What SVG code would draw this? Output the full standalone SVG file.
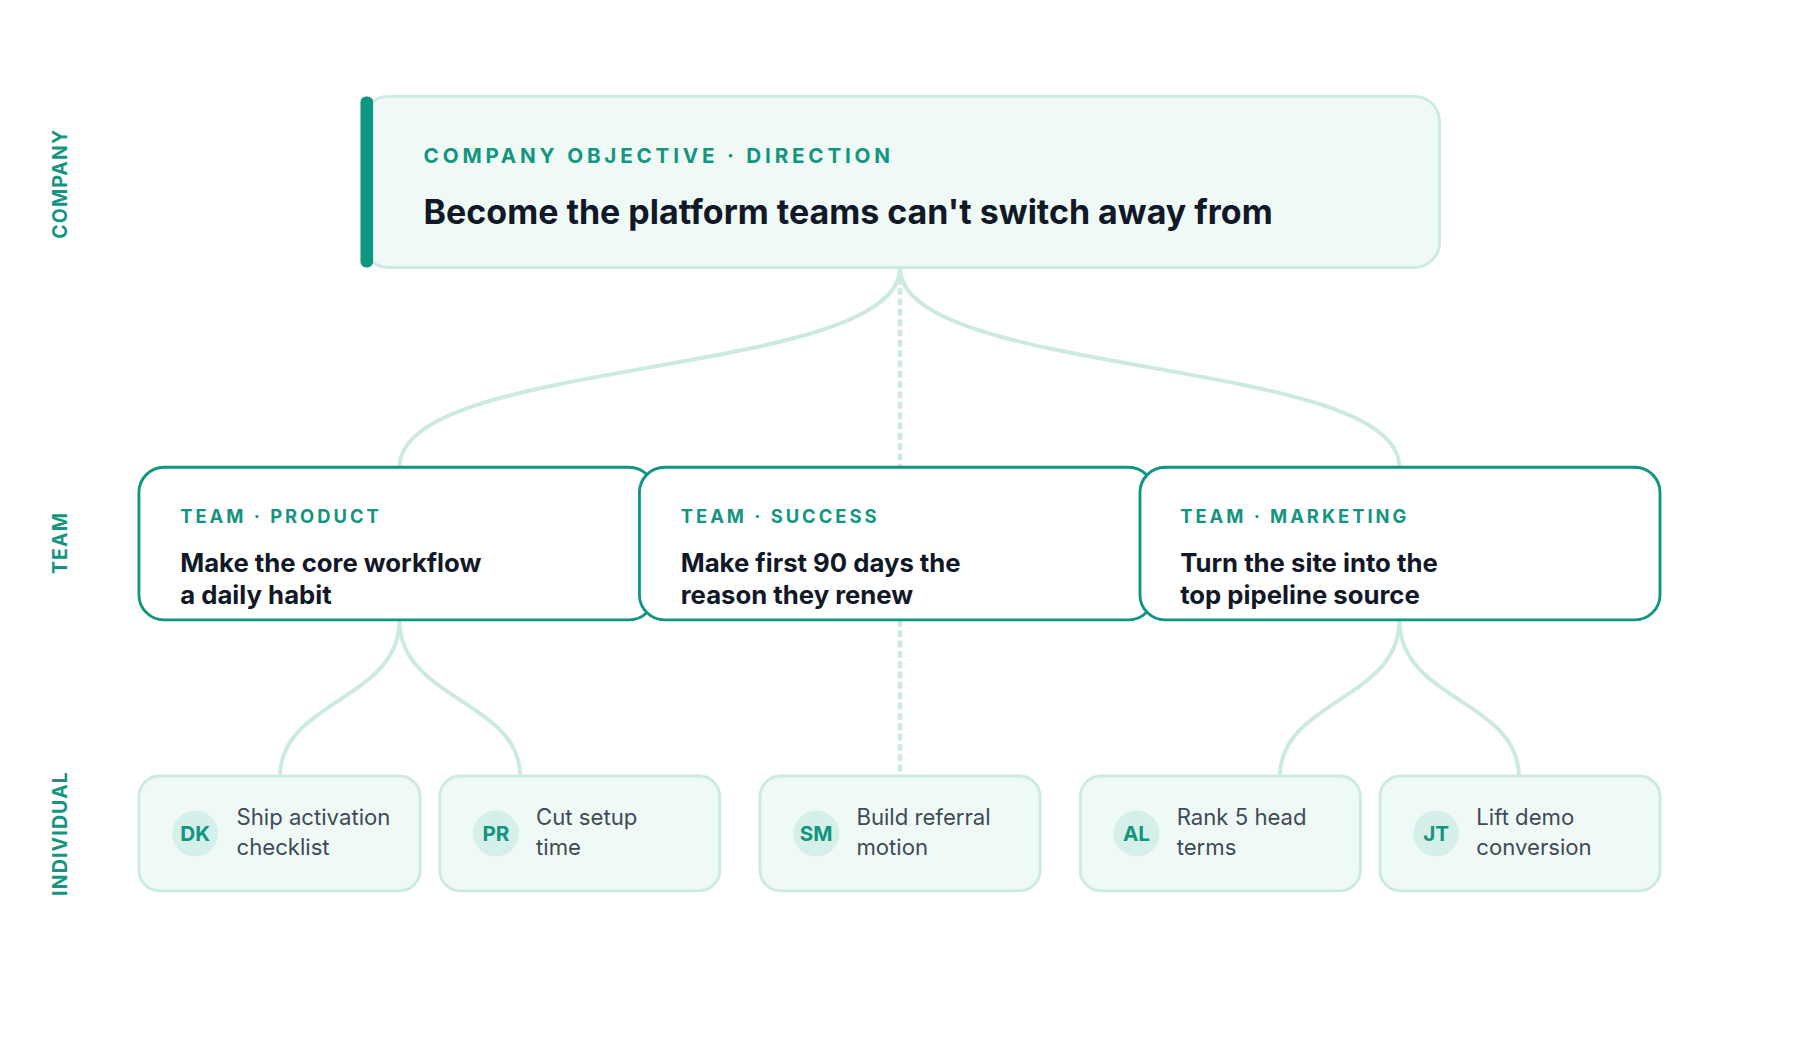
<svg xmlns="http://www.w3.org/2000/svg" width="1800" height="1040" viewBox="0 0 1800 1040">
<style>
.lab{font-family:Inter,"Liberation Sans",sans-serif;font-weight:700;fill:#13957f;letter-spacing:2.6px}
.lab1{letter-spacing:3.3px}
.ttl{font-family:Inter,"Liberation Sans",sans-serif;font-weight:700;fill:#111827}
.ind{font-family:Inter,"Liberation Sans",sans-serif;font-size:19.3px;fill:#3f4a56}
.av{font-family:Inter,"Liberation Sans",sans-serif;font-size:18px;font-weight:700;fill:#13957f}
.side{font-family:Inter,"Liberation Sans",sans-serif;font-size:17px;font-weight:700;fill:#13957f;letter-spacing:1px}
.soft{fill:#effaf7;stroke:#cce9e3;stroke-width:2.5}
.team{fill:#fff;stroke:#0f9580;stroke-width:2.5}
.c{fill:none;stroke:#cce9e3;stroke-width:3.5}
.d{fill:none;stroke:#cce9e3;stroke-width:4;stroke-dasharray:6 3}
</style>
<rect width="1800" height="1040" fill="#fff"/>
<g transform="scale(1.148)">
<g id="side">
<text class="side" transform="translate(58,160) rotate(-90)" text-anchor="middle">COMPANY</text>
<text class="side" transform="translate(58,473) rotate(-90)" text-anchor="middle">TEAM</text>
<text class="side" transform="translate(58,726) rotate(-90)" text-anchor="middle">INDIVIDUAL</text>
</g>
<g id="connectors">
<path class="c" d="M784 233 C784 330 348 310 348 407"/>
<path class="c" d="M784 233 C784 330 1219 310 1219 407"/>
<path class="d" d="M784 233 L784 407"/>
<path class="c" d="M348 540 C348 610 244 610 244 676"/>
<path class="c" d="M348 540 C348 610 453 610 453 676"/>
<path class="d" d="M784 540 L784 676"/>
<path class="c" d="M1219 540 C1219 610 1115 610 1115 676"/>
<path class="c" d="M1219 540 C1219 610 1323 610 1323 676"/>
</g>
<g id="company">
<rect class="soft" x="316" y="84" width="938" height="149" rx="22"/>
<rect x="314" y="84" width="11" height="149" rx="5" fill="#0f9580"/>
<text class="lab lab1" x="369" y="142" font-size="18">COMPANY OBJECTIVE · DIRECTION</text>
<text class="ttl" x="369" y="195" font-size="29.6">Become the platform teams can't switch away from</text>
</g>
<g id="team-product">
<rect class="team" x="121" y="407" width="449" height="133" rx="22"/>
<text class="lab" x="157" y="456" font-size="16">TEAM · PRODUCT</text>
<text class="ttl" x="157" y="498" font-size="22.4">Make the core workflow</text>
<text class="ttl" x="157" y="526" font-size="22.4">a daily habit</text>
</g>
<g id="team-success">
<rect class="team" x="557" y="407" width="448" height="133" rx="22"/>
<text class="lab" x="593" y="456" font-size="16">TEAM · SUCCESS</text>
<text class="ttl" x="593" y="498" font-size="22.4">Make first 90 days the</text>
<text class="ttl" x="593" y="526" font-size="22.4">reason they renew</text>
</g>
<g id="team-marketing">
<rect class="team" x="993" y="407" width="453" height="133" rx="22"/>
<text class="lab" x="1028" y="456" font-size="16">TEAM · MARKETING</text>
<text class="ttl" x="1028" y="498" font-size="22.4">Turn the site into the</text>
<text class="ttl" x="1028" y="526" font-size="22.4">top pipeline source</text>
</g>
<g id="ind-dk">
<rect class="soft" x="121" y="676" width="245" height="100" rx="18"/>
<circle cx="170" cy="726" r="20" fill="#d5f0ea"/>
<text class="av" x="170" y="732.5" text-anchor="middle">DK</text>
<text class="ind" x="206" y="719">Ship activation</text>
<text class="ind" x="206" y="745">checklist</text>
</g>
<g id="ind-pr">
<rect class="soft" x="383" y="676" width="244" height="100" rx="18"/>
<circle cx="432" cy="726" r="20" fill="#d5f0ea"/>
<text class="av" x="432" y="732.5" text-anchor="middle">PR</text>
<text class="ind" x="467" y="719">Cut setup</text>
<text class="ind" x="467" y="745">time</text>
</g>
<g id="ind-sm">
<rect class="soft" x="662" y="676" width="244" height="100" rx="18"/>
<circle cx="711" cy="726" r="20" fill="#d5f0ea"/>
<text class="av" x="711" y="732.5" text-anchor="middle">SM</text>
<text class="ind" x="746" y="719">Build referral</text>
<text class="ind" x="746" y="745">motion</text>
</g>
<g id="ind-al">
<rect class="soft" x="941" y="676" width="244" height="100" rx="18"/>
<circle cx="990" cy="726" r="20" fill="#d5f0ea"/>
<text class="av" x="990" y="732.5" text-anchor="middle">AL</text>
<text class="ind" x="1025" y="719">Rank 5 head</text>
<text class="ind" x="1025" y="745">terms</text>
</g>
<g id="ind-jt">
<rect class="soft" x="1202" y="676" width="244" height="100" rx="18"/>
<circle cx="1251" cy="726" r="20" fill="#d5f0ea"/>
<text class="av" x="1251" y="732.5" text-anchor="middle">JT</text>
<text class="ind" x="1286" y="719">Lift demo</text>
<text class="ind" x="1286" y="745">conversion</text>
</g>
</g>
</svg>
